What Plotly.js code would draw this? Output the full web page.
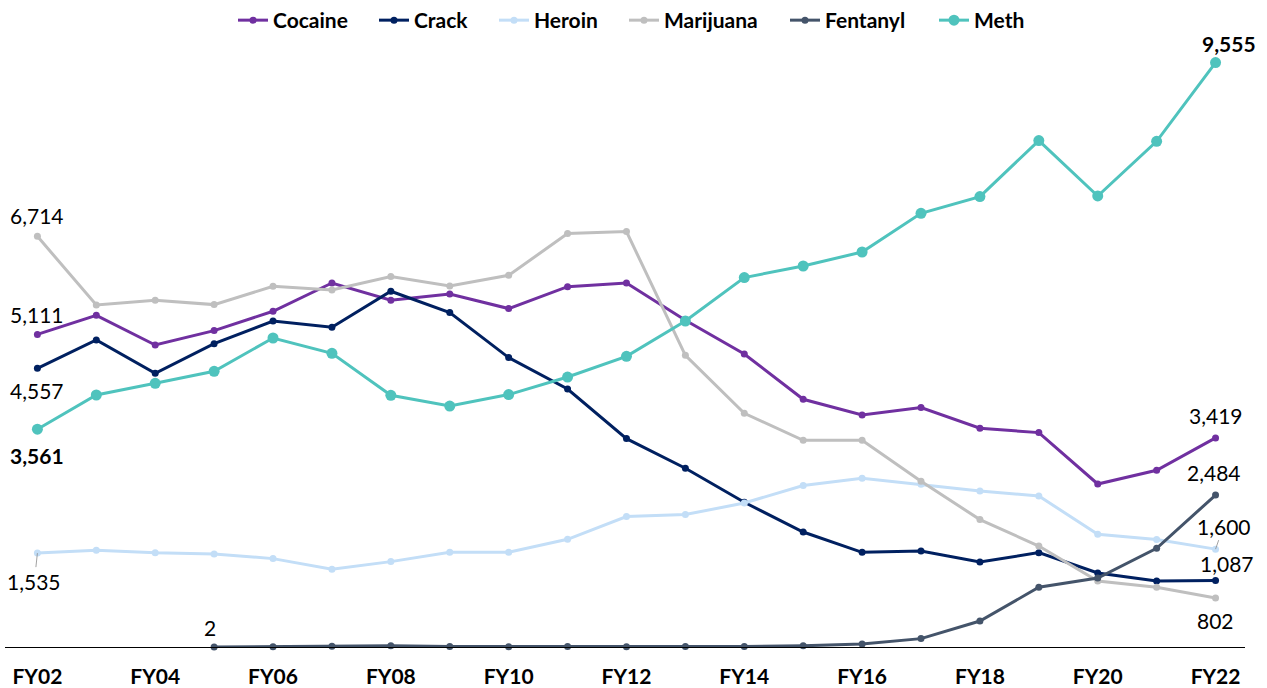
<!DOCTYPE html>
<html>
<head>
<meta charset="utf-8">
<script src="https://cdn.plot.ly/plotly-3.0.1.min.js"></script>
<style>html,body{margin:0;padding:0;background:#fff;}#chart{width:1267px;height:688px;}</style>
</head>
<body>
<div id="chart"></div>
<script>
const years = ["FY02","FY03","FY04","FY05","FY06","FY07","FY08","FY09","FY10","FY11","FY12","FY13","FY14","FY15","FY16","FY17","FY18","FY19","FY20","FY21","FY22"];
const tickYears = ["FY02","FY04","FY06","FY08","FY10","FY12","FY14","FY16","FY18","FY20","FY22"];

const cocaine   = [5111,5423,4938,5173,5489,5951,5669,5772,5533,5892,5951,5342,4791,4050,3793,3914,3576,3505,2665,2889,3419];
const crack     = [4557,5019,4475,4960,5330,5227,5816,5467,4732,4218,3407,2922,2366,1880,1548,1570,1390,1543,1210,1079,1087];
const heroin    = [1535,1581,1540,1521,1445,1270,1396,1548,1548,1761,2132,2165,2354,2639,2758,2660,2551,2469,1843,1756,1600];
const marijuana = [6714,5592,5669,5598,5897,5837,6056,5902,6077,6759,6792,4769,3821,3380,3380,2709,2083,1651,1079,976,802];
const fentanyl  = [null,null,null,2,6,14,19,8,6,8,6,7,9,20,49,137,425,976,1128,1614,2484];
const meth      = [3561,4120,4311,4508,5052,4802,4115,3940,4127,4414,4753,5330,6040,6229,6458,7091,7364,8280,7374,8268,9555];

const names  = ["Cocaine","Crack","Heroin","Marijuana","Fentanyl","Meth"];
const series = [cocaine, crack, heroin, marijuana, fentanyl, meth];
const colors = ["#7030A0","#002060","#C3DEF7","#BFBFBF","#44546A","#4FC3BD"];
const msizes = [7,7,7,7,7,11];
const legendIds = ["legend","legend2","legend3","legend4","legend5","legend6"];
const legendLeft = [233, 374, 494, 624, 785, 934];   // px, left edge of each legend entry

const traces = series.map((s,i)=>({
  type:"scatter", mode:"lines+markers", name:names[i], x:years, y:s,
  legend:legendIds[i],
  line:{color:colors[i], width:3}, marker:{color:colors[i], size:msizes[i]},
  cliponaxis:false, connectgaps:false, hoverinfo:"x+y"
}));

const fmt = v => v.toLocaleString("en-US");
const lblFont = {family:"Lato, 'Open Sans', sans-serif", size:21, color:"#000"};
const boldFont = Object.assign({}, lblFont, {weight:"bold"});
const last = years.length-1;
function lbl(series, idx, xs, ys, font){
  return {x:years[idx], y:series[idx], xref:"x", yref:"y", text:fmt(series[idx]), showarrow:false,
          xshift:xs, yshift:ys, font:font||lblFont, xanchor:"center", yanchor:"middle"};
}
function lead(series, idx, ax, ay){
  return {x:years[idx], y:series[idx], xref:"x", yref:"y", text:fmt(series[idx]), showarrow:true,
          arrowhead:0, arrowwidth:0.8, arrowcolor:"#8a8a8a", ax:ax, ay:ay, standoff:0,
          font:lblFont, xanchor:"center", yanchor:"middle"};
}
const annotations = [
  lbl(marijuana,0,0,21),
  lbl(cocaine,0,0,20),
  lbl(crack,0,0,-22),
  lbl(meth,0,0,-26,boldFont),
  lead(heroin,0,-3,28),
  lbl(fentanyl,3,-4,19),
  lbl(meth,last,13,19,boldFont),
  lbl(cocaine,last,0,22),
  lbl(fentanyl,last,-2,23),
  lead(heroin,last,8,-23),
  lbl(crack,last,11,17),
  lbl(marijuana,last,0,-23)
];

const layout = {
  width:1267, height:688,
  margin:{l:5, r:22, t:35, b:41, autoexpand:false},
  paper_bgcolor:"#fff", plot_bgcolor:"#fff",
  showlegend:true,
  xaxis:{type:"category", categoryorder:"array", categoryarray:years, automargin:false,
         range:[-0.55, 20.5], tickmode:"array", tickvals:tickYears, ticktext:tickYears,
         showline:true, linecolor:"#000", linewidth:1, showgrid:false, zeroline:false, ticks:"",
         ticklabelstandoff:11,
         tickfont:{family:"Lato, 'Open Sans', sans-serif", size:21, color:"#000", weight:"bold"}},
  yaxis:{range:[0,10006], visible:false, showgrid:false, zeroline:false, fixedrange:true, automargin:false},
  annotations:annotations
};
legendIds.forEach((id,i)=>{
  layout[id] = {orientation:"h", x:legendLeft[i]/1267, xanchor:"left", xref:"container",
                y:1.0, yanchor:"top", yref:"container", bgcolor:"rgba(0,0,0,0)",
                font:{family:"Lato, 'Open Sans', sans-serif", size:21, color:"#000", weight:"bold"},
                itemwidth:30};
});
Plotly.newPlot("chart", traces, layout, {displayModeBar:false, staticPlot:true});
</script>
</body>
</html>
